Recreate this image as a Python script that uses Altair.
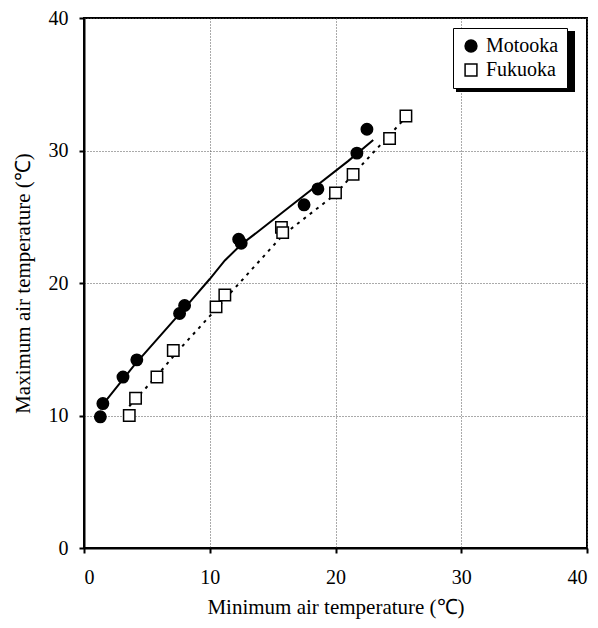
import altair as alt
import pandas as pd

series_names = ["Motooka", "Fukuoka"]

moto_x = [1.3, 1.5, 3.1, 4.2, 7.6, 8.0, 12.3, 12.5, 17.5, 18.6, 21.7, 22.5]
moto_y = [9.9, 10.9, 12.9, 14.2, 17.7, 18.3, 23.3, 23.0, 25.9, 27.1, 29.8, 31.6]
fuku_x = [3.6, 4.1, 5.8, 7.1, 10.5, 11.2, 15.7, 15.8, 20.0, 21.4, 24.3, 25.6]
fuku_y = [10.0, 11.3, 12.9, 14.9, 18.2, 19.1, 24.2, 23.8, 26.8, 28.2, 30.9, 32.6]

moto_line_x = [1.3, 4.0, 8.0, 10.0, 11.2, 12.5, 14.0, 17.5, 21.0, 23.0]
moto_line_y = [10.6, 13.8, 18.1, 20.3, 21.7, 22.9, 24.0, 26.6, 29.2, 30.8]
fuku_line_x = [3.6, 5.8, 7.5, 10.0, 11.6, 15.8, 20.0, 21.4, 25.4]
fuku_line_y = [10.7, 13.0, 14.9, 17.5, 19.2, 23.6, 26.7, 28.2, 32.3]

tick_values = [0, 10, 20, 30, 40]

FONT = "Liberation Serif"

pts = pd.DataFrame({
    "x": moto_x + fuku_x,
    "y": moto_y + fuku_y,
    "series": [series_names[0]] * len(moto_x) + [series_names[1]] * len(fuku_x),
})
moto_line = pd.DataFrame({"x": moto_line_x, "y": moto_line_y})
fuku_line = pd.DataFrame({"x": fuku_line_x, "y": fuku_line_y})

xscale = alt.Scale(domain=[0, 40], nice=False, zero=False)
yscale = alt.Scale(domain=[0, 40], nice=False, zero=False)

xaxis = alt.Axis(values=tick_values, title="Minimum air temperature (℃)", format="d",
                 labelPadding=14, titlePadding=9)
yaxis = alt.Axis(values=tick_values, title="Maximum air temperature (℃)", format="d",
                 labelPadding=11, titlePadding=15)

X = alt.X("x:Q", scale=xscale, axis=xaxis)
Y = alt.Y("y:Q", scale=yscale, axis=yaxis)

legend = alt.Legend(
    title=None, orient="none", legendX=369, legendY=10,
    padding=8, strokeColor="black", fillColor="white",
    labelFont=FONT, labelFontSize=20, labelColor="black",
    symbolStrokeColor="black", symbolStrokeWidth=1.5, symbolSize=140,
    rowPadding=4, labelOffset=5,
)

line_m = alt.Chart(moto_line).mark_line(color="black", strokeWidth=2).encode(x=X, y=Y)
line_f = alt.Chart(fuku_line).mark_line(color="black", strokeWidth=2, strokeDash=[3, 5]).encode(x=X, y=Y)

points = alt.Chart(pts).mark_point(size=130, strokeWidth=1.5, opacity=1).encode(
    x=X, y=Y,
    shape=alt.Shape("series:N", scale=alt.Scale(domain=series_names, range=["circle", "square"]), legend=legend),
    fill=alt.Fill("series:N", scale=alt.Scale(domain=series_names, range=["black", "white"]), legend=legend),
    stroke=alt.Stroke("series:N", scale=alt.Scale(domain=series_names, range=["black", "black"]), legend=legend),
)

shadow = alt.Chart(pd.DataFrame({"a": [0]})).mark_rect(color="black").encode(
    x=alt.value(372), x2=alt.value(491), y=alt.value(13), y2=alt.value(74)
)

chart = alt.layer(line_f, line_m, points, shadow).properties(
    width=503, height=530,
    autosize=alt.AutoSizeParams(type="none"),
    padding={"left": 76, "top": 10, "right": 3, "bottom": 72},
).configure_view(
    stroke="black", strokeWidth=2
).configure_axis(
    labelFont=FONT, labelFontSize=20, labelColor="black",
    titleFont=FONT, titleFontSize=21, titleFontWeight="normal", titleColor="black",
    domainColor="black", domainWidth=2, tickColor="black", tickWidth=2, tickSize=5,
    gridColor="#555555", gridDash=[1, 2], gridWidth=1,
)

chart.save("out.html", embed_options={"renderer": "svg", "actions": False})
